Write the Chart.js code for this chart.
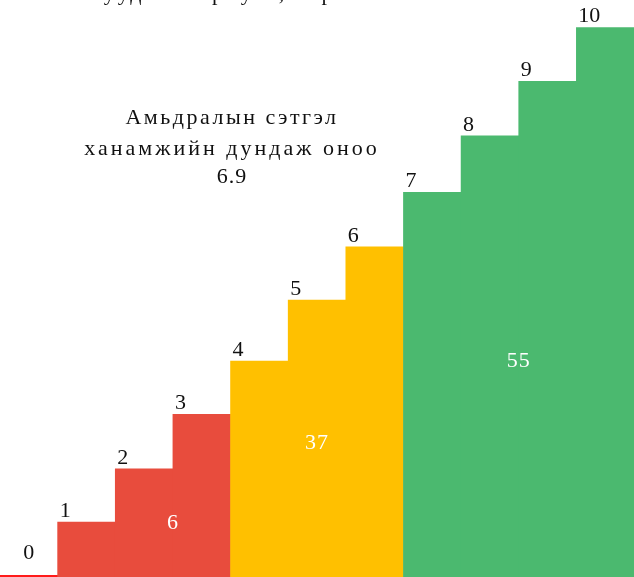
<!DOCTYPE html>
<html>
<head>
<meta charset="utf-8">
<script src="https://cdn.jsdelivr.net/npm/chart.js@4.4.1/dist/chart.umd.min.js"></script>
<style>
  html, body { margin: 0; padding: 0; background: #fff; }
  #wrap { position: relative; width: 634px; height: 577px; }
</style>
</head>
<body>
<div id="wrap"><canvas id="stepsChart"></canvas></div>
<script>
// satisfaction score steps 0..10 (heights)
const scores = ['0', '1', '2', '3', '4', '5', '6', '7', '8', '9', '10'];
const stepHeights = [0.03, 1, 1.97, 2.96, 3.93, 5.04, 6.01, 7, 8.03, 9.02, 10];
const stepColors = ['#ff1a1a', '#e84c3d', '#e84c3d', '#e84c3d',
    '#ffc000', '#ffc000', '#ffc000',
    '#4bb96f', '#4bb96f', '#4bb96f', '#4bb96f'];

// share (%) in each group: low / middle / high
const groupShares = ['6', '37', '55'];
const avgTitle = ['Амьдралын сэтгэл', 'ханамжийн дундаж оноо'];
const avgScore = '6.9';
const topTitle = 'Ажилтнуудын хариулт, тархалт';

const FONT = '"Liberation Serif", "Times New Roman", serif';

const stepLabels = {
    id: 'stepLabels',
    afterDatasetsDraw(chart) {
        const ctx = chart.ctx;
        const meta = chart.getDatasetMeta(0);
        const y = chart.scales.y;
        ctx.save();

        // numbers above each step
        ctx.font = '22px ' + FONT;
        ctx.fillStyle = '#111';
        ctx.textBaseline = 'alphabetic';
        meta.data.forEach((bar, i) => {
            const left = bar.x - bar.width / 2;
            if (i === 0) {
                ctx.textAlign = 'center';
                ctx.fillText(scores[i], bar.x, bar.y - 16);
            } else {
                ctx.textAlign = 'left';
                ctx.fillText(scores[i], left + 2, bar.y - 5);
            }
        });

        // group shares, white
        ctx.fillStyle = '#fff';
        ctx.textAlign = 'center';
        ctx.textBaseline = 'middle';
        ctx.letterSpacing = '1px';
        const groups = [[2, 3, 0.97], [4, 6, 2.44], [7, 10, 3.93]];
        groups.forEach((g, k) => {
            const a = meta.data[g[0]], b = meta.data[g[1]];
            const cx = ((a.x - a.width / 2) + (b.x + b.width / 2)) / 2;
            ctx.fillText(groupShares[k], cx, y.getPixelForValue(g[2]));
        });

        // average score text
        ctx.fillStyle = '#111';
        ctx.letterSpacing = '2.5px';
        ctx.fillText(avgTitle[0], 232, 118);
        ctx.letterSpacing = '3px';
        ctx.fillText(avgTitle[1], 232, 149);
        ctx.letterSpacing = '1px';
        ctx.fillText(avgScore, 232, 177);

        // title cut by the top edge, only descenders show
        ctx.letterSpacing = '3px';
        ctx.textAlign = 'left';
        ctx.textBaseline = 'alphabetic';
        const startX = 212 - ctx.measureText('Ажилтнуудын ха').width;
        ctx.fillText(topTitle, startX, 0);
        ctx.restore();
    }
};

const chart = new Chart(document.getElementById('stepsChart'), {
    type: 'bar',
    data: {
        labels: scores,
        datasets: [{
            data: stepHeights,
            backgroundColor: stepColors,
            borderWidth: 0,
            barPercentage: 1,
            categoryPercentage: 1
        }]
    },
    options: {
        responsive: true,
        maintainAspectRatio: false,
        animation: false,
        layout: { padding: 0 },
        plugins: {
            legend: { display: false },
            tooltip: { enabled: false }
        },
        scales: {
            x: { display: false },
            y: { display: false, min: 0, max: 10.5 }
        }
    },
    plugins: [stepLabels]
});
</script>
</body>
</html>
